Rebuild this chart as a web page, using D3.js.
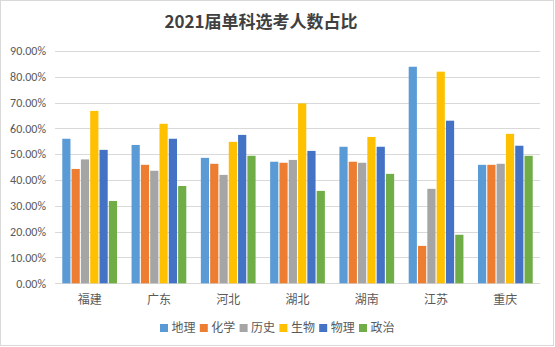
<!DOCTYPE html>
<html><head><meta charset="utf-8">
<script src="https://cdn.jsdelivr.net/npm/d3@7"></script>
<style>body{margin:0;background:#fff}svg{display:block}text{font-family:"Noto Sans CJK SC","Microsoft YaHei",sans-serif}</style>
</head><body><svg id="c" width="555" height="347"></svg>
<script>
const categories = ["福建","广东","河北","湖北","湖南","江苏","重庆"];
const seriesNames = ["地理","化学","历史","生物","物理","政治"];
const colors = ["#5B9BD5","#ED7D31","#A5A5A5","#FFC000","#4472C4","#70AD47"];
const geo  = [56.0,53.6,48.6,47.1,52.9,83.9,45.9];
const chem = [44.3,45.9,46.3,46.7,47.1,14.5,45.9];
const hist = [48.0,43.6,42.0,47.8,46.7,36.6,46.3];
const bio  = [66.8,61.8,54.8,69.7,56.7,82.0,57.9];
const phys = [51.7,56.0,57.5,51.3,52.9,63.0,53.3];
const pol  = [31.9,37.7,49.4,35.8,42.4,18.8,49.4];
const series = [geo,chem,hist,bio,phys,pol];
const yTicks = [0,10,20,30,40,50,60,70,80,90];

(function(){
const svg = d3.select("#c");
svg.append("rect").attr("x",0.5).attr("y",0.5).attr("width",553).attr("height",345)
  .attr("fill","#fff").attr("stroke","#d9d9d9");

const pL=55, pR=540, pT=51, pB=283.3;
const x = d3.scaleBand().domain(categories).range([pL,pR]).paddingInner(0.21).paddingOuter(0.105);
const xs = d3.scaleBand().domain(seriesNames).range([0,x.bandwidth()]).paddingInner(0.12);
const y = d3.scaleLinear().domain([0,90]).range([pB,pT]);

svg.append("g").selectAll("line").data(yTicks).join("line")
  .attr("x1",pL).attr("x2",pR).attr("y1",d=>Math.round(y(d))+0.5).attr("y2",d=>Math.round(y(d))+0.5)
  .attr("stroke","#d9d9d9").attr("stroke-width",1);

svg.append("g").selectAll("text").data(yTicks).join("text")
  .attr("x",46).attr("y",d=>y(d)).attr("dy","0.35em").attr("text-anchor","end")
  .attr("font-size",12).attr("fill","#595959").style("font-family","Calibri,'Liberation Sans',sans-serif")
  .text(d=>d.toFixed(2)+"%");

series.forEach((vals,si)=>{
  svg.append("g").selectAll("rect").data(vals).join("rect")
    .attr("x",(d,i)=>x(categories[i])+xs(seriesNames[si]))
    .attr("width",xs.bandwidth())
    .attr("y",d=>y(d)).attr("height",d=>y(0)-y(d))
    .attr("fill",colors[si]);
});

svg.append("g").selectAll("text").data(categories).join("text")
  .attr("x",d=>x(d)+x.bandwidth()/2).attr("y",300).attr("dy","0.35em").attr("text-anchor","middle")
  .attr("font-size",12).attr("fill","#595959").text(d=>d);

svg.append("text").attr("x",261).attr("y",22).attr("dy","0.35em").attr("text-anchor","middle")
  .attr("font-size",17).attr("font-weight","bold").attr("fill","#404040")
  .text("2021届单科选考人数占比");

const lg = svg.append("g").selectAll("g").data(seriesNames).join("g")
  .attr("transform",(d,i)=>`translate(${160+i*39.8},328)`);
lg.append("rect").attr("x",0).attr("y",-4).attr("width",8).attr("height",8).attr("fill",(d,i)=>colors[i]);
lg.append("text").attr("x",11.5).attr("y",0).attr("dy","0.35em").attr("font-size",12).attr("fill","#595959").text(d=>d);
})();
</script></body></html>
